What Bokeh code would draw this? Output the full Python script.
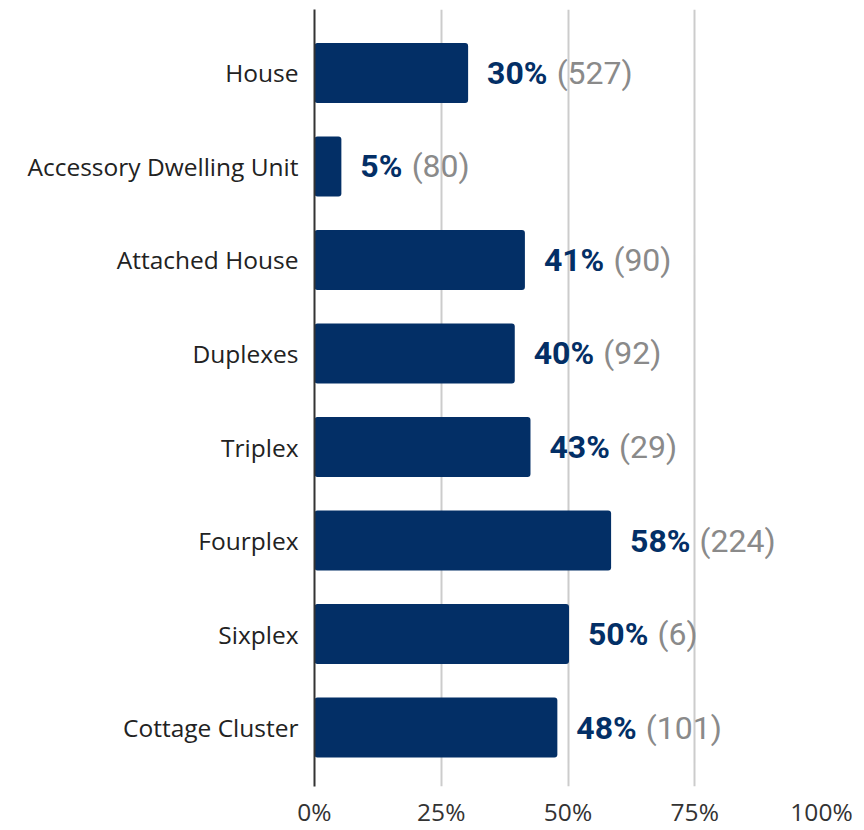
from bokeh.plotting import figure
from bokeh.models import ColumnDataSource, Range1d, FixedTicker
from bokeh.core.properties import value
from bokeh.embed import file_html
from bokeh.resources import INLINE

# ---- data ----
categories = ["House", "Accessory Dwelling Unit", "Attached House", "Duplexes",
              "Triplex", "Fourplex", "Sixplex", "Cottage Cluster"]
shares = [0.303, 0.053, 0.415, 0.395, 0.426, 0.585, 0.502, 0.479]
pct_labels = ["30%", "5%", "41%", "40%", "43%", "58%", "50%", "48%"]
counts = [527, 80, 90, 92, 29, 224, 6, 101]
x_ticks = [0, 0.25, 0.5, 0.75, 1.0]
x_tick_labels = ["0%", "25%", "50%", "75%", "100%"]

NAVY = "#032f66"
GRAY = "#8a8a8a"
PCT_FS = 32


def est_width(s, fs):
    w = 0.0
    for ch in s:
        w += 0.72 if ch == "%" else 0.57
    return w * fs


ys = list(range(len(categories)))
src = ColumnDataSource(dict(
    y=ys,
    share=shares,
    pct=pct_labels,
    cnt=["(%d)" % c for c in counts],
    cnt_off=[19 + est_width(t, PCT_FS) + 10 for t in pct_labels],
))

p = figure(width=864, height=830, output_backend="svg", toolbar_location=None,
           x_range=Range1d(0, 1.0), y_range=Range1d(7.630, -0.678),
           min_border_left=314, min_border_right=43, min_border_top=9,
           min_border_bottom=40)
p.outline_line_color = None

p.hbar(y="y", left=0, right="share", height=0.642, source=src,
       fill_color=NAVY, line_color=None, border_radius=3)

p.text(x="share", y="y", text="pct", source=src, x_offset=19,
       text_font=value("Roboto"), text_font_style="bold",
       text_font_size="%dpx" % PCT_FS, text_baseline="middle",
       text_align="left", text_color=NAVY)
p.text(x="share", y="y", text="cnt", source=src, x_offset="cnt_off",
       text_font=value("Roboto"), text_font_style="normal",
       text_font_size="%dpx" % PCT_FS, text_baseline="middle",
       text_align="left", text_color=GRAY)

# y axis
p.yaxis.ticker = FixedTicker(ticks=ys)
p.yaxis.major_label_overrides = {i: c for i, c in zip(ys, categories)}
p.yaxis.major_tick_line_color = None
p.yaxis.minor_tick_line_color = None
p.yaxis.axis_line_color = "#333333"
p.yaxis.axis_line_width = 2
p.yaxis.major_label_standoff = 10
p.yaxis.major_label_text_font = "Open Sans"
p.yaxis.major_label_text_font_size = "24.5px"
p.yaxis.major_label_text_color = "#222222"

# x axis
p.xaxis.ticker = FixedTicker(ticks=x_ticks)
p.xaxis.major_label_overrides = {t: l for t, l in zip(x_ticks, x_tick_labels)}
p.xaxis.major_tick_line_color = None
p.xaxis.minor_tick_line_color = None
p.xaxis.axis_line_color = None
p.xaxis.major_label_standoff = 2
p.xaxis.major_label_text_font = "Open Sans"
p.xaxis.major_label_text_font_size = "24.5px"
p.xaxis.major_label_text_color = "#333333"

p.ygrid.grid_line_color = None
p.xgrid.ticker = FixedTicker(ticks=x_ticks)
p.xgrid.grid_line_color = "#cccccc"
p.xgrid.grid_line_width = 2

open("out.html", "w").write(file_html(p, INLINE))
